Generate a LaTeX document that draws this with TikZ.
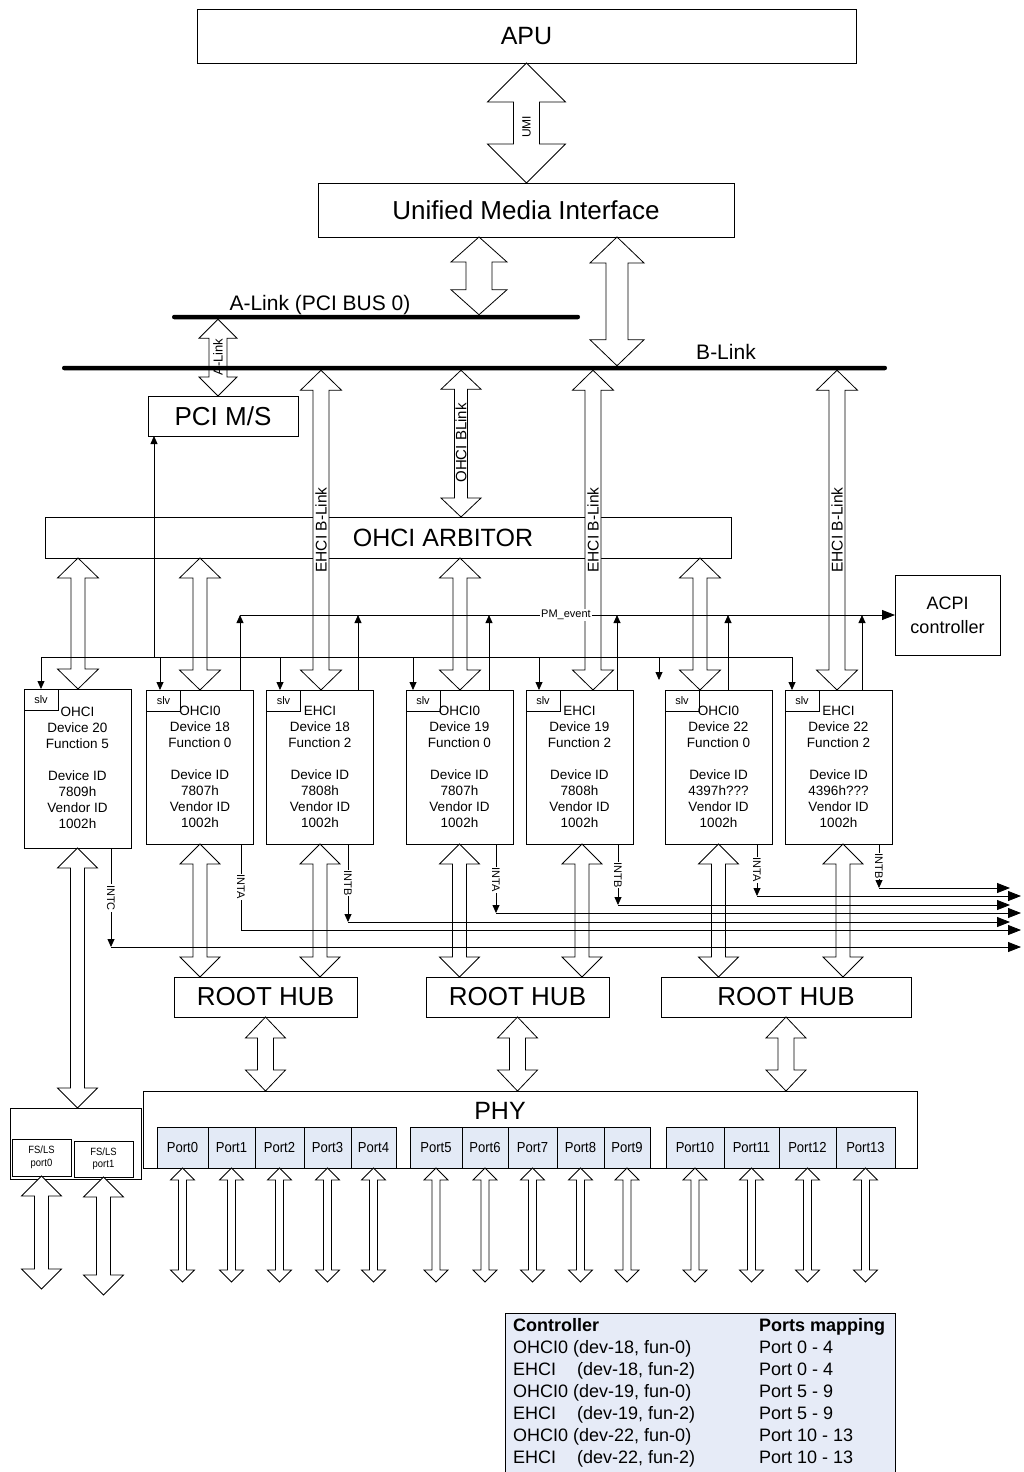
\documentclass[tikz,border=0pt]{standalone}
\usepackage{fontspec}
\setmainfont{Liberation Sans}
\newfontfamily\narrowfont[FakeStretch=0.9]{Liberation Sans}
\usetikzlibrary{arrows.meta,calc}
\definecolor{portblue}{HTML}{E3EAF6}
\definecolor{tabblue}{HTML}{E6EBF7}
\newcommand\fs[1]{\fontsize{#1pt}{1.2\dimexpr#1pt\relax}\selectfont}
% double block arrow: top point, bottom point (only its y is used), head half width, shaft half width, head length
\newcommand\dblarr[5]{%
  \path[blk] let \p1=#1, \p2=#2 in (\x1,\y1) -- (\x1+#3pt,\y1-#5pt) -- (\x1+#4pt,\y1-#5pt) -- (\x1+#4pt,\y2+#5pt) -- (\x1+#3pt,\y2+#5pt) -- (\x1,\y2) -- (\x1-#3pt,\y2+#5pt) -- (\x1-#4pt,\y2+#5pt) -- (\x1-#4pt,\y1-#5pt) -- (\x1-#3pt,\y1-#5pt) -- cycle;}
\begin{document}
\begin{tikzpicture}[x=1pt,y=-1pt,
  box/.style={draw=black, line width=0.8pt, fill=white, inner sep=0pt, outer sep=0pt},
  blk/.style={draw=black, line width=0.8pt, fill=white, line join=miter},
  ln/.style={line width=0.8pt},
  arr/.style={ln, -{Triangle[length=8pt,width=7pt]}},
  bigarr/.style={ln, -{Triangle[length=13pt,width=10pt]}},
  port/.style={box, fill=portblue, minimum height=41pt, font=\narrowfont\fs{14.5}},
  dev/.style={box, minimum width=107pt, minimum height=154pt},
  slvbox/.style={box, minimum width=34pt, minimum height=21pt, anchor=north west, font=\fs{11}},
  devtxt/.style={anchor=north, align=center, inner sep=0pt, font=\fontsize{13.5pt}{16pt}\selectfont},
  vlab/.style={rotate=90, inner sep=0pt},
  intlab/.style={rotate=-90, fill=white, inner sep=0.8pt, font=\fs{11}},
  bar/.style={inner sep=0pt, outer sep=0pt, minimum height=4.5pt},
  tab/.style={anchor=base west, inner sep=0pt, font=\fs{18}},
]
\fill[white] (0,0) rectangle (1023,1472);
\useasboundingbox (0,0) rectangle (1023,1472);

% ---------------- main boxes
\node[box, minimum width=659pt, minimum height=54pt, font=\fs{25}] (apu) at (526.5,36) {APU};
\node[box, minimum width=416pt, minimum height=54pt, font=\fs{26}] (umi) at (526,210) {Unified Media Interface};
\node[bar, minimum width=408pt] (alink) at (376,317) {};
\node[bar, minimum width=825pt] (blink) at (474.5,368) {};
\node[font=\fs{21}] (alinkt) at (320,305) {A-Link (PCI BUS 0)};
\node[font=\fs{21}] (blinkt) at (726,352) {B-Link};
\node[box, minimum width=150pt, minimum height=40pt, font=\fs{26}] (pcims) at (223,416) {PCI M/S};
\node[box, minimum width=686pt, minimum height=41pt] (arb) at (388,537.5) {};
\node[font=\fs{25}] (arbt) at (443,538) {OHCI ARBITOR};
\node[box, minimum width=105pt, minimum height=80pt, align=center, font=\fontsize{18pt}{24pt}\selectfont] (acpi) at (947.5,615) {ACPI\\controller};

% ---------------- devices
\node[dev, minimum height=159pt] (d20) at (77.5,768.5) {};
\node[dev] (d180) at (200,767) {};
\node[dev] (d182) at (320,767) {};
\node[dev] (d190) at (459.5,767) {};
\node[dev] (d192) at (579.5,767) {};
\node[dev] (d220) at (718.5,767) {};
\node[dev] (d222) at (838.5,767) {};
\foreach \dd in {20,180,182,190,192,220,222}{\node[slvbox] (s\dd) at (d\dd.north west) {slv};}
\node[devtxt] (t20) at (77.5,707) {OHCI\\Device 20\\Function 5\\[16pt]Device ID\\7809h\\Vendor ID\\1002h};
\node[devtxt] (t180) at (200,706) {OHCI0\\Device 18\\Function 0\\[16pt]Device ID\\7807h\\Vendor ID\\1002h};
\node[devtxt] (t182) at (320,706) {EHCI\\Device 18\\Function 2\\[16pt]Device ID\\7808h\\Vendor ID\\1002h};
\node[devtxt] (t190) at (459.5,706) {OHCI0\\Device 19\\Function 0\\[16pt]Device ID\\7807h\\Vendor ID\\1002h};
\node[devtxt] (t192) at (579.5,706) {EHCI\\Device 19\\Function 2\\[16pt]Device ID\\7808h\\Vendor ID\\1002h};
\node[devtxt] (t220) at (718.5,706) {OHCI0\\Device 22\\Function 0\\[16pt]Device ID\\4397h???\\Vendor ID\\1002h};
\node[devtxt] (t222) at (838.5,706) {EHCI\\Device 22\\Function 2\\[16pt]Device ID\\4396h???\\Vendor ID\\1002h};

% ---------------- root hubs, PHY, ports
\node[box, minimum width=183pt, minimum height=40pt, font=\fs{26}] (rh1) at (265.5,997) {ROOT HUB};
\node[box, minimum width=183pt, minimum height=40pt, font=\fs{26}] (rh2) at (517.5,997) {ROOT HUB};
\node[box, minimum width=250pt, minimum height=40pt, font=\fs{26}] (rh3) at (786,997) {ROOT HUB};
\node[box, minimum width=774pt, minimum height=77pt] (phy) at (530,1129.5) {};
\node[font=\fs{25}] (phyt) at (500,1111) {PHY};
\foreach \i/\pl/\pr in {0/157/208,1/208/255,2/255/304,3/304/351,4/351/396,5/410/462,6/462/508,7/508/557,8/557/604,9/604/650,10/666/724,11/724/779,12/779/836,13/836/895}{
  \pgfmathsetmacro\pw{\pr-\pl}\pgfmathsetmacro\pc{(\pl+\pr)/2}
  \node[port, minimum width=\pw pt] (p\i) at (\pc,1147.5) {Port\i};
}
\node[box, minimum width=131pt, minimum height=71pt] (fsls) at (75.5,1143.5) {};
\node[box, minimum width=59pt, minimum height=37pt, align=center, font=\narrowfont\fontsize{10.5pt}{12.5pt}\selectfont] (fp0) at (41.5,1157.5) {FS/LS\\port0};
\node[box, minimum width=59pt, minimum height=36pt, align=center, font=\narrowfont\fontsize{10.5pt}{12.5pt}\selectfont] (fp1) at (103.5,1159) {FS/LS\\port1};

% ---------------- block arrows
\dblarr{(apu.south)}{(umi.north)}{39}{13}{39}
\node[vlab, font=\fs{12}] (umil) at (526.5,127) {UMI};
\dblarr{(umi.south -| 479,0)}{(alink.north)}{28}{13}{25}
\dblarr{(umi.south -| 617,0)}{(blink.north)}{27}{11}{26}
\dblarr{(alink.south -| 218,0)}{(pcims.north)}{19}{9}{19}
\dblarr{(blink.south -| 461,0)}{(arb.north)}{20}{6.5}{19}
\dblarr{(blink.south -| 321,0)}{(d182.north)}{20.5}{8}{20}
\dblarr{(blink.south -| 593,0)}{(d192.north)}{20.5}{8}{20}
\dblarr{(blink.south -| 837,0)}{(d222.north)}{20.5}{8}{20}
\dblarr{(arb.south -| 78,0)}{(d20.north)}{20.5}{7}{20}
\dblarr{(arb.south -| 200,0)}{(d180.north)}{20.5}{7}{20}
\dblarr{(arb.south -| 460,0)}{(d190.north)}{20.5}{7}{20}
\dblarr{(arb.south -| 700,0)}{(d220.north)}{20.5}{7}{20}
\dblarr{(d20.south)}{(fsls.north)}{20}{7}{20}
\dblarr{(d180.south)}{(rh1.north)}{20}{7}{20}
\dblarr{(d182.south)}{(rh1.north)}{20}{7}{20}
\dblarr{(d190.south)}{(rh2.north)}{20}{7}{20}
\dblarr{(d192.south -| 582,0)}{(rh2.north)}{20}{7}{20}
\dblarr{(d220.south)}{(rh3.north)}{20}{7}{20}
\dblarr{(d222.south -| 843,0)}{(rh3.north)}{20}{7}{20}
\dblarr{(rh1.south)}{(phy.north)}{20}{8}{21}
\dblarr{(rh2.south)}{(phy.north)}{20}{8}{21}
\dblarr{(rh3.south)}{(phy.north)}{20}{8}{21}
\foreach \i in {0,...,13}{
  \coordinate (pe\i) at ($(p\i.south)+(0,114)$);
  \dblarr{(p\i.south)}{(pe\i)}{12}{4}{12}
}
\coordinate (fe0) at (41,1289);
\coordinate (fe1) at (102,1295);
\dblarr{(fp0.south)}{(fe0)}{20}{7}{20}
\dblarr{(fp1.south)}{(fe1)}{20}{7}{20}

% bars on top
\fill[rounded corners=2.2pt] (alink.south west) rectangle (alink.north east);
\fill[rounded corners=2.2pt] (blink.south west) rectangle (blink.north east);

% labels in block arrows
\node[vlab, font=\fs{13}] (alinkl) at (218,357) {A-Link};
\node[vlab, font=\fs{15}] (ohcibl) at (461,443) {OHCI BLink};
\node[vlab, font=\fs{15.5}] (eb1) at (321,530) {EHCI B-Link};
\node[vlab, font=\fs{15.5}] (eb2) at (593,530) {EHCI B-Link};
\node[vlab, font=\fs{15.5}] (eb3) at (837,530) {EHCI B-Link};

% ---------------- slave bus (from PCI M/S)
\coordinate (sbl) at (41,657);
\coordinate (sbr) at (792,657);
\coordinate (sbp) at (154,657);
\draw[ln] (sbl) -- (sbr);
\draw[arr] (sbp) -- (sbp |- pcims.south);
\draw[arr] (sbl) -- (sbl |- s20.north);
\draw[arr] (sbr) -- (sbr |- s222.north);
\foreach \xx/\dd in {160/180,280/182,413/190,539/192}{
  \draw[arr] (\xx,657) -- (s\dd.north -| \xx,0);
}
\coordinate (sbf) at (659,680);
\draw[arr] (sbf |- sbl) -- (sbf);

% ---------------- PM_event
\coordinate (pml) at (240,615);
\draw[bigarr] (pml) -- (acpi.west);
\node[fill=white, inner sep=1pt, font=\fs{11}] (pmt) at (566,615) {PM\_event};
\foreach \xx/\dd in {240/180,358/182,489/190,617/192,728/220,862/222}{
  \draw[arr] (d\dd.north -| \xx,0) -- (\xx,615);
}

% ---------------- interrupt lines
\draw[arr] (d20.south -| 111,0) -- (111,947);
\draw[bigarr] (111,947) -- (1021,947);
\draw[bigarr] (d180.south -| 241,0) -- (241,930) -- (1021,930);
\draw[arr] (d182.south -| 348,0) -- (348,922);
\draw[bigarr] (348,922) -- (1010,922);
\draw[arr] (d190.south -| 496,0) -- (496,913);
\draw[bigarr] (496,913) -- (1021,913);
\draw[arr] (d192.south -| 618,0) -- (618,905);
\draw[bigarr] (618,905) -- (1010,905);
\draw[arr] (d220.south -| 757,0) -- (757,896);
\draw[bigarr] (757,896) -- (1021,896);
\draw[arr] (d222.south -| 879,0) -- (879,888);
\draw[bigarr] (879,888) -- (1010,888);
\node[intlab] (ic) at (111,898) {INTC};
\node[intlab] (ia18) at (241,887) {INTA};
\node[intlab] (ib18) at (348,883) {INTB};
\node[intlab] (ia19) at (496,880) {INTA};
\node[intlab] (ib19) at (618,875) {INTB};
\node[intlab] (ia22) at (757,870) {INTA};
\node[intlab] (ib22) at (879,866) {INTB};

% ---------------- table
\fill[tabblue] (505,1313) rectangle (895,1472);
\draw[ln] (505,1472) -- (505,1313) -- (895,1313) -- (895,1472);
\node[tab, font=\bfseries\fs{18}] (th1) at (513,1331.5) {Controller};
\node[tab, font=\bfseries\fs{18}] (th2) at (759,1331.5) {Ports mapping};
\node[tab] (tc1) at (513,1353.5) {OHCI0 (dev-18, fun-0)};
\node[tab] (tc2) at (513,1375.5) {\makebox[64pt][l]{EHCI}(dev-18, fun-2)};
\node[tab] (tc3) at (513,1397.5) {OHCI0 (dev-19, fun-0)};
\node[tab] (tc4) at (513,1419.5) {\makebox[64pt][l]{EHCI}(dev-19, fun-2)};
\node[tab] (tc5) at (513,1441.5) {OHCI0 (dev-22, fun-0)};
\node[tab] (tc6) at (513,1463.5) {\makebox[64pt][l]{EHCI}(dev-22, fun-2)};
\node[tab] (tp1) at (759,1353.5) {Port 0 - 4};
\node[tab] (tp2) at (759,1375.5) {Port 0 - 4};
\node[tab] (tp3) at (759,1397.5) {Port 5 - 9};
\node[tab] (tp4) at (759,1419.5) {Port 5 - 9};
\node[tab] (tp5) at (759,1441.5) {Port 10 - 13};
\node[tab] (tp6) at (759,1463.5) {Port 10 - 13};
\end{tikzpicture}
\end{document}
